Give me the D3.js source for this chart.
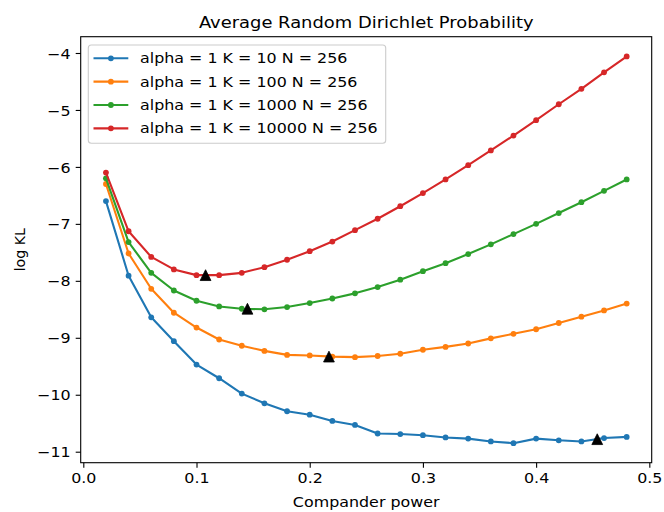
<!DOCTYPE html>
<html>
<head>
<meta charset="utf-8">
<script src="https://cdn.jsdelivr.net/npm/d3@7"></script>
<style>
html, body { margin: 0; padding: 0; background: #ffffff; }
svg { display: block; font-family: "DejaVu Sans", sans-serif; }
</style>
</head>
<body>
<svg id="chart" width="664" height="512"></svg>
<script>
// ---- data ----
const powers = [0.02,0.04,0.06,0.08,0.10,0.12,0.14,0.16,0.18,0.20,0.22,0.24,
                0.26,0.28,0.30,0.32,0.34,0.36,0.38,0.40,0.42,0.44,0.46,0.48];
const seriesNames = ["alpha = 1 K = 10 N = 256", "alpha = 1 K = 100 N = 256",
                     "alpha = 1 K = 1000 N = 256", "alpha = 1 K = 10000 N = 256"];
const k10 = [-6.60,-7.91,-8.64,-9.06,-9.47,-9.71,-9.98,-10.15,-10.29,-10.35,-10.46,-10.53,
             -10.68,-10.69,-10.71,-10.75,-10.77,-10.82,-10.85,-10.77,-10.80,-10.82,-10.76,-10.74];
const k100 = [-6.30,-7.52,-8.14,-8.56,-8.82,-9.03,-9.14,-9.23,-9.30,-9.31,-9.33,-9.34,
              -9.32,-9.28,-9.21,-9.16,-9.10,-9.01,-8.93,-8.85,-8.74,-8.63,-8.52,-8.40];
const k1000 = [-6.20,-7.32,-7.86,-8.17,-8.35,-8.45,-8.49,-8.50,-8.46,-8.39,-8.31,-8.22,
               -8.11,-7.98,-7.83,-7.69,-7.53,-7.36,-7.18,-7.00,-6.81,-6.62,-6.42,-6.22];
const k10000 = [-6.10,-7.13,-7.58,-7.80,-7.90,-7.90,-7.86,-7.76,-7.63,-7.48,-7.31,-7.11,
                -6.91,-6.69,-6.46,-6.22,-5.97,-5.71,-5.45,-5.18,-4.90,-4.63,-4.34,-4.06];
const minPower = [0.454, 0.217, 0.145, 0.108];
const minValue = [-10.78, -9.33, -8.49, -7.90];
const xTicks = [0.0, 0.1, 0.2, 0.3, 0.4, 0.5];
const yTicks = [-11, -10, -9, -8, -7, -6, -5, -4];
const colors = ["#1f77b4", "#ff7f0e", "#2ca02c", "#d62728"];
const titleText = "Average Random Dirichlet Probability";
const xLabelText = "Compander power";
const yLabelText = "log KL";

const allSeries = [k10, k100, k1000, k10000];

// ---- layout ----
const L = 80.7, R = 651.7, T = 36.7, B = 462.7;
const FS = 14.2;
const SX = 1.12; // horizontal stretch of text in the reference
const svg = d3.select("#chart");

const x = d3.scaleLinear().domain([-0.0023, 0.5021]).range([L, R]);
const y = d3.scaleLinear().domain([-11.193, -3.714]).range([B, T]);

const fmtY = v => (v < 0 ? "\u2212" : "") + Math.abs(v);

// axes
const xAxis = d3.axisBottom(x).tickValues(xTicks).tickFormat(d3.format(".1f"))
  .tickSizeInner(5).tickSizeOuter(0).tickPadding(5);
const yAxis = d3.axisLeft(y).tickValues(yTicks).tickFormat(fmtY)
  .tickSizeInner(5).tickSizeOuter(0).tickPadding(5);

const gx = svg.append("g").attr("transform", `translate(0,${B})`).call(xAxis);
const gy = svg.append("g").attr("transform", `translate(${L},0)`).call(yAxis);
[gx, gy].forEach(g => {
  g.select(".domain").remove();
  g.selectAll(".tick line").attr("stroke", "#000").attr("stroke-width", 1.1);
  g.selectAll(".tick text").attr("fill", "#000").attr("font-size", FS)
    .attr("font-family", "DejaVu Sans");
});
gx.selectAll(".tick text").attr("dy", "0.75em").attr("transform", `scale(${SX},1)`);
gy.selectAll(".tick text").attr("dy", "0.36em").attr("x", -10 / SX)
  .attr("transform", `scale(${SX},1)`);

// lines
const clipId = "plotclip";
svg.append("clipPath").attr("id", clipId).append("rect")
  .attr("x", L).attr("y", T).attr("width", R - L).attr("height", B - T);
const plot = svg.append("g").attr("clip-path", `url(#${clipId})`);

const line = d3.line().x((d, i) => x(powers[i])).y(d => y(d));
allSeries.forEach((s, k) => {
  const g = plot.append("g");
  g.append("path").datum(s).attr("d", line).attr("fill", "none")
    .attr("stroke", colors[k]).attr("stroke-width", 2.1)
    .attr("stroke-linejoin", "round").attr("stroke-linecap", "square");
  g.selectAll("circle").data(s).enter().append("circle")
    .attr("cx", (d, i) => x(powers[i])).attr("cy", d => y(d))
    .attr("r", 2.9).attr("fill", colors[k]);
});

// minimum triangles
const tri = (cx, cy, h) => `M${cx},${cy - h}L${cx - h},${cy + h}L${cx + h},${cy + h}Z`;
plot.selectAll("path.tri").data(minPower).enter().append("path")
  .attr("class", "tri")
  .attr("d", (d, i) => tri(x(d), y(minValue[i]), 5.4))
  .attr("fill", "#000").attr("stroke", "#000").attr("stroke-width", 0.8);

// frame
svg.append("rect").attr("x", L).attr("y", T).attr("width", R - L).attr("height", B - T)
  .attr("fill", "none").attr("stroke", "#000").attr("stroke-width", 1.1);

// legend
const lg = svg.append("g");
lg.append("rect").attr("x", 88.3).attr("y", 45).attr("width", 297.4).attr("height", 98.3)
  .attr("rx", 3).attr("ry", 3).attr("fill", "#ffffff").attr("fill-opacity", 0.8)
  .attr("stroke", "#cccccc").attr("stroke-width", 1.1);
seriesNames.forEach((name, k) => {
  const yy = 58.3 + k * 23.35;
  lg.append("line").attr("x1", 93.5).attr("x2", 128.3).attr("y1", yy).attr("y2", yy)
    .attr("stroke", colors[k]).attr("stroke-width", 2.1);
  lg.append("circle").attr("cx", 110.9).attr("cy", yy).attr("r", 2.9).attr("fill", colors[k]);
  lg.append("text").attr("transform", `translate(140,${yy}) scale(${SX},1)`)
    .attr("dy", "0.36em").attr("font-size", FS).attr("fill", "#000").text(name);
});

// title & labels
svg.append("text").attr("transform", `translate(${(L + R) / 2},28) scale(${SX},1)`)
  .attr("text-anchor", "middle").attr("font-size", 16).attr("fill", "#000").text(titleText);
svg.append("text").attr("transform", `translate(${(L + R) / 2},507) scale(${SX},1)`)
  .attr("text-anchor", "middle").attr("font-size", FS).attr("fill", "#000").text(xLabelText);
svg.append("text").attr("transform", `translate(25,${(T + B) / 2}) rotate(-90)`)
  .attr("text-anchor", "middle").attr("font-size", FS).attr("fill", "#000").text(yLabelText);
</script>
</body>
</html>
